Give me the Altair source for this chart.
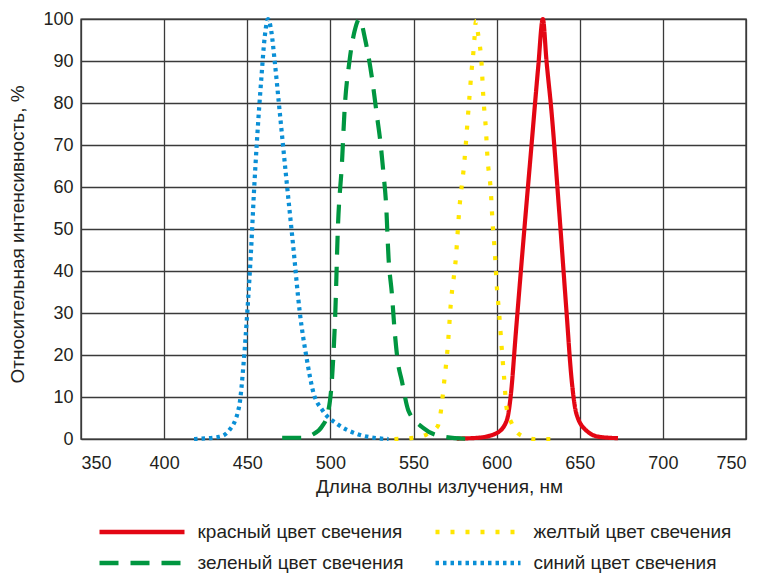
import altair as alt
import pandas as pd

series_names = ["красный цвет свечения", "желтый цвет свечения",
                "зеленый цвет свечения", "синий цвет свечения"]
series_colors = ["#e30613", "#ffe600", "#009640", "#0a8fd6"]
series_dash = [[1, 0], [4, 11], [19, 12], [3.5, 4]]

red_x = [576, 589, 600, 606, 608.6, 611.5, 615, 621, 625, 627.8, 630, 633, 637.6, 642, 645, 648, 654, 662, 673]
red_y = [0.1, 0.3, 1.4, 4.3, 10.7, 25, 42, 70, 88.5, 100, 90, 78, 54.4, 30.5, 14.6, 6, 2, 0.5, 0.2]

yellow_x = [538.5, 548.5, 557.5, 564.5, 566.5, 568.5, 570.5, 572.5, 575.5, 577.5, 580.5, 583.5, 585, 586,
            586.7, 587.5, 589, 591, 592, 593.5, 594.5, 596.5, 597.5, 599, 600, 601.5, 603, 604.5, 606,
            609, 614, 622.5, 632.5]
yellow_y = [0, 0.2, 1, 3, 6.7, 13.8, 21.5, 32.5, 43.2, 54.4, 65.6, 80.7, 88, 92, 95.5, 99.5, 96,
            89, 81.4, 74, 67, 59, 52, 44, 37, 30, 22, 14.6, 7.4, 3.8, 1, 0, 0]

green_x = [471, 483, 489, 495, 498, 501, 503, 504.5, 507, 508.5, 511.5, 514.5, 517.5, 521, 525, 528,
           530, 532, 533.5, 535, 537, 538.5, 540.5, 543, 547, 556, 566, 584]
green_y = [0.3, 0.3, 1, 3, 5.5, 14.5, 30.5, 50, 66, 78, 90, 97, 100, 95, 86, 77,
           71, 63, 56, 43, 34.6, 26.5, 18.6, 13.8, 6.7, 2.6, 0.7, 0]

blue_x = [418, 433, 439, 445, 448, 450, 452.5, 454, 456, 458.5, 460.5, 462.5, 464.5, 466.5, 469.5,
          473.5, 477.5, 481.5, 486, 489.5, 495.5, 504, 516, 528, 535]
blue_y = [0, 0.5, 2, 7.5, 19, 30, 46.5, 58.5, 72, 86, 95.7, 100, 97, 90, 78,
          62, 46.5, 30.5, 18.6, 11.5, 6.7, 3.6, 1.2, 0.2, 0]

x_ticks = [350, 400, 450, 500, 550, 600, 650, 700, 750]
y_ticks = [0, 10, 20, 30, 40, 50, 60, 70, 80, 90, 100]

rows = []
for name, xs, ys in [(series_names[0], red_x, red_y), (series_names[1], yellow_x, yellow_y),
                     (series_names[2], green_x, green_y), (series_names[3], blue_x, blue_y)]:
    for i, (a, b) in enumerate(zip(xs, ys)):
        rows.append({"series": name, "wl": a, "val": b, "order": i})
df = pd.DataFrame(rows)

FONT = "Liberation Sans"
TXT = "#231f20"

legend = alt.Legend(title=None, orient="none", legendX=50, legendY=502, columns=2,
                    direction="horizontal",
                    symbolType="M-5,0H5", symbolSize=289, symbolStrokeWidth=4.5,
                    labelOffset=44.5, labelFontSize=19, labelFont=FONT,
                    labelColor=TXT, columnPadding=22, rowPadding=10,
                    labelLimit=400)

chart = alt.Chart(df).mark_line(strokeWidth=4.2, interpolate="monotone").encode(
    x=alt.X("wl:Q", scale=alt.Scale(domain=[350, 750], nice=False, zero=False),
            axis=alt.Axis(values=x_ticks, title="Длина волны излучения, нм", labelPadding=15,
                          titlePadding=5, titleX=358)),
    y=alt.Y("val:Q", scale=alt.Scale(domain=[0, 100], nice=False),
            axis=alt.Axis(values=y_ticks, title="Относительная интенсивность, %", labelPadding=8,
                          titlePadding=15, titleY=215)),
    color=alt.Color("series:N", scale=alt.Scale(domain=series_names, range=series_colors),
                    legend=legend),
    strokeDash=alt.StrokeDash("series:N", scale=alt.Scale(domain=series_names, range=series_dash),
                              legend=legend),
    detail="series:N",
    order="order:Q",
).properties(
    width=665, height=420,
    autosize=alt.AutoSizeParams(type="none"),
    padding={"left": 73, "top": 11, "right": 10, "bottom": 135},
).configure_view(stroke="#222222", strokeWidth=1.4).configure_axis(
    grid=True, gridColor="#3a3a3a", gridWidth=1.3, gridOpacity=1, domain=False, ticks=False,
    labelFont=FONT, labelFontSize=18, labelColor=TXT,
    titleFont=FONT, titleFontSize=19, titleFontWeight="normal", titleColor=TXT,
)

chart.save("out.html", embed_options={"renderer": "svg", "actions": False})
